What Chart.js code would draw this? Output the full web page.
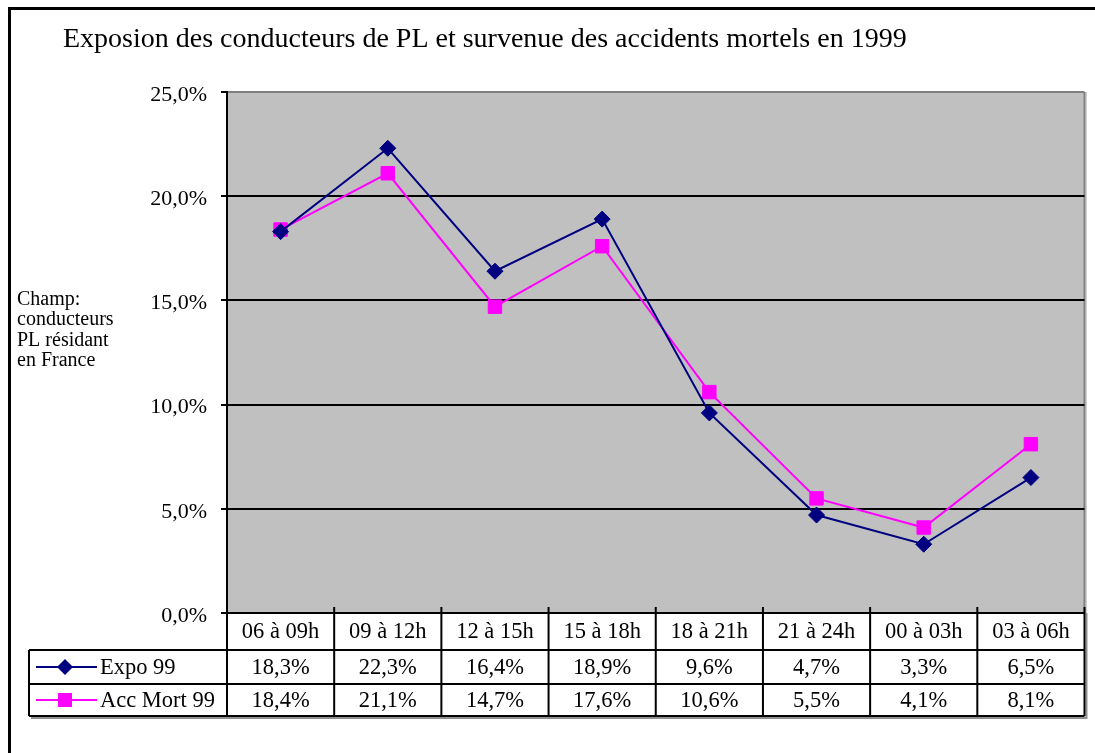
<!DOCTYPE html>
<html>
<head>
<meta charset="utf-8">
<script src="https://cdn.jsdelivr.net/npm/chart.js@4.4.0/dist/chart.umd.min.js"></script>
<style>
  html, body { margin: 0; padding: 0; background: #fff; }
  #wrap { width: 1095px; height: 753px; }
</style>
</head>
<body>
<div id="wrap"><canvas id="chart" width="1095" height="753"></canvas></div>
<script>
// chart data
const titleText = 'Exposion des conducteurs de PL et survenue des accidents mortels en 1999';
const noteLines = ['Champ:', 'conducteurs', 'PL résidant', 'en France'];
const periods = ['06 à 09h', '09 à 12h', '12 à 15h', '15 à 18h', '18 à 21h', '21 à 24h', '00 à 03h', '03 à 06h'];
const expo99 = [18.3, 22.3, 16.4, 18.9, 9.6, 4.7, 3.3, 6.5];
const accMort99 = [18.4, 21.1, 14.7, 17.6, 10.6, 5.5, 4.1, 8.1];
const seriesNames = ['Expo 99', 'Acc Mort 99'];

const SERIF = '"Liberation Serif", "Times New Roman", serif';

function fmtPct(v) {
    return v.toFixed(1).replace('.', ',') + '%';
}

/**
 * Background, frame, title and side note.
 */
const framePlugin = {
    id: 'frame',
    beforeDraw(chart) {
        const ctx = chart.ctx;
        const a = chart.chartArea;
        ctx.save();
        ctx.fillStyle = '#fff';
        ctx.fillRect(0, 0, chart.width, chart.height);

        // outer frame (left + top only visible)
        ctx.fillStyle = '#000';
        ctx.fillRect(8, 7, 3, chart.height - 7);
        ctx.fillRect(8, 7, chart.width - 8, 3);

        ctx.fillStyle = '#000';
        ctx.font = '28px ' + SERIF;
        ctx.textBaseline = 'alphabetic';
        ctx.textAlign = 'left';
        ctx.fillText(titleText, 63, 47);

        ctx.font = '20px ' + SERIF;
        noteLines.forEach((line, i) => ctx.fillText(line, 17, 305 + i * 20.3));

        // plot area
        ctx.fillStyle = '#c0c0c0';
        ctx.fillRect(a.left, a.top, a.right - a.left, a.bottom - a.top);
        ctx.fillStyle = '#808080';
        ctx.fillRect(a.right - 1, a.top, 2, a.bottom - a.top);
        ctx.fillStyle = '#a0a0a0';
        ctx.fillRect(a.right + 1, a.top, 1, a.bottom - a.top);
        ctx.restore();
    }
};

/**
 * Data table under the plot, columns follow the category scale.
 */
const tablePlugin = {
    id: 'dataTable',
    afterDraw(chart) {
        const ctx = chart.ctx;
        const a = chart.chartArea;
        const xs = chart.scales.x;
        const colW = (a.right - a.left) / periods.length;
        const rows = [a.bottom, 650, 684, 716];
        const legendLeft = 29;

        ctx.save();
        // shadow
        ctx.fillStyle = '#909090';
        ctx.fillRect(a.right + 1, a.bottom, 2, rows[3] - a.bottom + 3);
        ctx.fillRect(legendLeft + 2, rows[3] + 1, a.right - legendLeft, 2);

        ctx.fillStyle = '#fff';
        ctx.fillRect(a.left, a.bottom, a.right - a.left, rows[1] - a.bottom);
        ctx.fillRect(legendLeft, rows[1], a.right - legendLeft, rows[3] - rows[1]);

        ctx.strokeStyle = '#000';
        ctx.lineWidth = 2;
        ctx.beginPath();
        // horizontal lines
        ctx.moveTo(a.left, rows[0]); ctx.lineTo(a.right, rows[0]);
        for (let r = 1; r < rows.length; r++) {
            ctx.moveTo(legendLeft, rows[r]); ctx.lineTo(a.right, rows[r]);
        }
        // vertical lines
        for (let i = 0; i <= periods.length; i++) {
            const x = a.left + i * colW;
            ctx.moveTo(x, rows[0] - 6); ctx.lineTo(x, rows[3]);
        }
        ctx.moveTo(legendLeft, rows[1]); ctx.lineTo(legendLeft, rows[3]);
        ctx.stroke();

        ctx.fillStyle = '#000';
        ctx.font = '22.5px ' + SERIF;
        ctx.textAlign = 'center';
        ctx.textBaseline = 'middle';
        periods.forEach((p, i) => {
            const cx = xs.getPixelForValue(i);
            ctx.fillText(p, cx, (rows[0] + rows[1]) / 2 + 1);
            ctx.fillText(fmtPct(expo99[i]), cx, (rows[1] + rows[2]) / 2 + 1);
            ctx.fillText(fmtPct(accMort99[i]), cx, (rows[2] + rows[3]) / 2 + 1);
        });

        // legend keys
        chart.data.datasets.forEach((ds, k) => {
            const cy = (rows[k + 1] + rows[k + 2]) / 2;
            ctx.strokeStyle = ds.borderColor;
            ctx.lineWidth = 2;
            ctx.beginPath();
            ctx.moveTo(36, cy); ctx.lineTo(97, cy);
            ctx.stroke();
            ctx.fillStyle = ds.pointBackgroundColor;
            if (ds.pointStyle === 'rectRot') {
                ctx.beginPath();
                ctx.moveTo(65, cy - 8); ctx.lineTo(73, cy);
                ctx.lineTo(65, cy + 8); ctx.lineTo(57, cy);
                ctx.closePath(); ctx.fill();
            } else {
                ctx.fillRect(58, cy - 7, 14, 14);
            }
            ctx.fillStyle = '#000';
            ctx.textAlign = 'left';
            ctx.fillText(ds.label, 100, cy + 1);
        });
        ctx.restore();
    }
};

const ctx = document.getElementById('chart').getContext('2d');
new Chart(ctx, {
    type: 'line',
    data: {
        labels: periods,
        datasets: [{
            label: seriesNames[0],
            data: expo99,
            borderColor: '#000080',
            backgroundColor: '#000080',
            pointBackgroundColor: '#000080',
            pointBorderColor: '#000080',
            borderWidth: 2,
            pointStyle: 'rectRot',
            pointRadius: 8,
            pointBorderWidth: 1,
            tension: 0
        }, {
            label: seriesNames[1],
            data: accMort99,
            borderColor: '#ff00ff',
            backgroundColor: '#ff00ff',
            pointBackgroundColor: '#ff00ff',
            pointBorderColor: '#ff00ff',
            borderWidth: 2,
            pointStyle: 'rect',
            pointRadius: 9.5,
            pointBorderWidth: 1,
            tension: 0
        }]
    },
    options: {
        responsive: false,
        animation: false,
        layout: { padding: { top: 92, bottom: 140, left: 0, right: 7 } },
        plugins: {
            legend: { display: false },
            title: { display: false },
            tooltip: { enabled: false }
        },
        scales: {
            x: {
                type: 'category',
                display: false,
                offset: true
            },
            y: {
                min: 0,
                max: 25,
                afterFit: (scale) => { scale.width = 227; },
                ticks: {
                    stepSize: 5,
                    color: '#000',
                    padding: 14,
                    labelOffset: 3,
                    font: { family: SERIF, size: 22 },
                    callback: (v) => fmtPct(v)
                },
                grid: {
                    color: (c) => (c.tick && c.tick.value === 25 ? '#808080' : '#000'),
                    lineWidth: 2,
                    tickLength: 6,
                    tickColor: '#000'
                },
                border: { color: '#000', width: 2 }
            }
        }
    },
    plugins: [framePlugin, tablePlugin]
});
</script>
</body>
</html>
